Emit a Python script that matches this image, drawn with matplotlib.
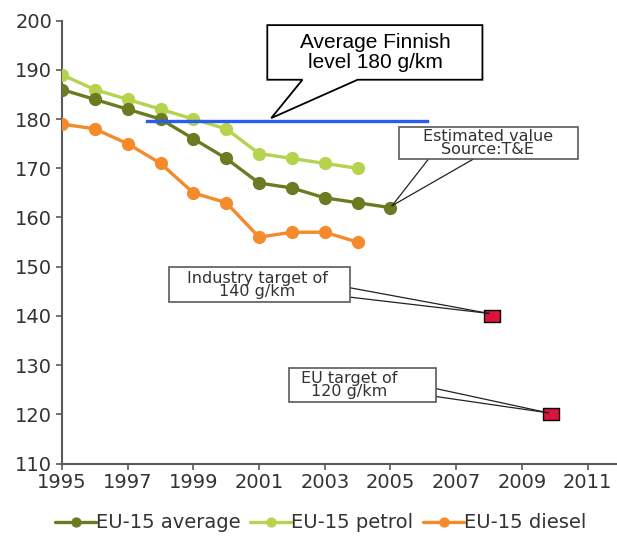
import matplotlib
matplotlib.use('Agg')
import matplotlib.pyplot as plt
from matplotlib.patches import Polygon, Rectangle
from matplotlib.path import Path

# --- данные ---
years_avg = [1995, 1996, 1997, 1998, 1999, 2000, 2001, 2002, 2003, 2004, 2005]
eu15_average = [186, 184, 182, 180, 176, 172, 167, 166, 164, 163, 162]
years_fuel = [1995, 1996, 1997, 1998, 1999, 2000, 2001, 2002, 2003, 2004]
eu15_petrol = [189, 186, 184, 182, 180, 178, 173, 172, 171, 170]
eu15_diesel = [179, 178, 175, 171, 165, 163, 156, 157, 157, 155]

finnish_level = 179.7
finnish_span = [1997.6, 2006.1]

target_years = [2008.1, 2009.9]
target_values = [140, 120]

x_ticks = list(range(1995, 2012, 2))
y_ticks = list(range(110, 201, 10))

# цвета
C_AVG = '#6b7b22'
C_PET = '#b5d34c'
C_DIE = '#f58a2b'
C_BLUE = '#2a5cf0'
C_RED = '#dc143c'
TXT = '#333333'
AX = '#5a5a5a'

fig = plt.figure(figsize=(6.17, 5.43), dpi=100)
ax = fig.add_axes([0.1005, 0.1464, 0.905, 0.8155])

lkw = dict(lw=2.4, marker='o', markersize=8.5, solid_capstyle='round')
ax.plot(years_avg, eu15_average, color=C_AVG, label='EU-15 average', zorder=4, **lkw)
ax.plot(years_fuel, eu15_petrol, color=C_PET, label='EU-15 petrol', zorder=3, **lkw)
ax.plot(years_fuel, eu15_diesel, color=C_DIE, label='EU-15 diesel', zorder=3, **lkw)

ax.plot(finnish_span, [finnish_level, finnish_level], color=C_BLUE, lw=2.4, zorder=5)

# прямоугольный маркер для целевых значений
rect = Path([(-1.35, -1), (1.35, -1), (1.35, 1), (-1.35, 1), (-1.35, -1)],
            [Path.MOVETO, Path.LINETO, Path.LINETO, Path.LINETO, Path.CLOSEPOLY])
ax.plot(target_years, target_values, linestyle='none', marker=rect, markersize=12,
        markerfacecolor=C_RED, markeredgecolor='black', markeredgewidth=1, zorder=6)

ax.set_xlim(1995, 2012)
ax.set_ylim(110, 200)
ax.set_xticks(x_ticks)
ax.set_yticks(y_ticks)
ax.tick_params(axis='both', direction='out', length=4.5, width=1.2, color=AX,
               labelsize=14, labelcolor=TXT, pad=2.5)
for s in ['top', 'right']:
    ax.spines[s].set_visible(False)
for s in ['left', 'bottom']:
    ax.spines[s].set_color(AX)
    ax.spines[s].set_linewidth(1.5)

# --- выноска "Average Finnish level" ---
callout = Polygon([(2001.25, 199.1), (2007.8, 199.1), (2007.8, 188.0), (2004.0, 188.0),
                   (2001.37, 180.2), (2002.32, 188.0), (2001.25, 188.0)],
                  closed=True, facecolor='white', edgecolor='black', lw=1.3, zorder=7)
ax.add_patch(callout)
ax.text(2004.55, 193.5, 'Average Finnish\nlevel 180 g/km', ha='center', va='center',
        fontsize=15, family='Liberation Sans', color='black', linespacing=1.05, zorder=8)

# --- маленькие подписи ---
def label_box(x0, x1, y0, y1, text, tx, lines, tip):
    ax.add_patch(Rectangle((x0, y0), x1 - x0, y1 - y0, facecolor='white',
                           edgecolor=AX, lw=1.2, zorder=7))
    ax.text(tx, (y0 + y1) / 2, text, ha='center', va='center', fontsize=11.5,
            color=TXT, linespacing=0.82, zorder=8)
    for (lx, ly) in lines:
        ax.plot([lx, tip[0]], [ly, tip[1]], color='#222222', lw=0.9, zorder=6)

label_box(2005.27, 2010.7, 171.9, 178.4, 'Estimated value\nSource:T&E', 2007.96,
          [(2006.16, 171.9), (2007.53, 171.9)], (2005.05, 162.4))
label_box(1998.25, 2003.78, 142.8, 149.9, 'Industry target of\n140 g/km', 2000.95,
          [(2003.78, 145.7), (2003.78, 143.8)], (2008.0, 140.5))
label_box(2001.92, 2006.4, 122.4, 129.4, 'EU target of\n120 g/km', 2003.75,
          [(2006.4, 125.2), (2006.4, 123.6)], (2009.8, 120.3))

leg = fig.legend(loc='center', bbox_to_anchor=(0.52, 0.037), ncol=3, frameon=False,
                 fontsize=14, handlelength=2.1, handletextpad=0.0, columnspacing=0.5,
                 markerscale=0.75)
for t in leg.get_texts():
    t.set_color(TXT)

fig.savefig('out.png', dpi=100)
